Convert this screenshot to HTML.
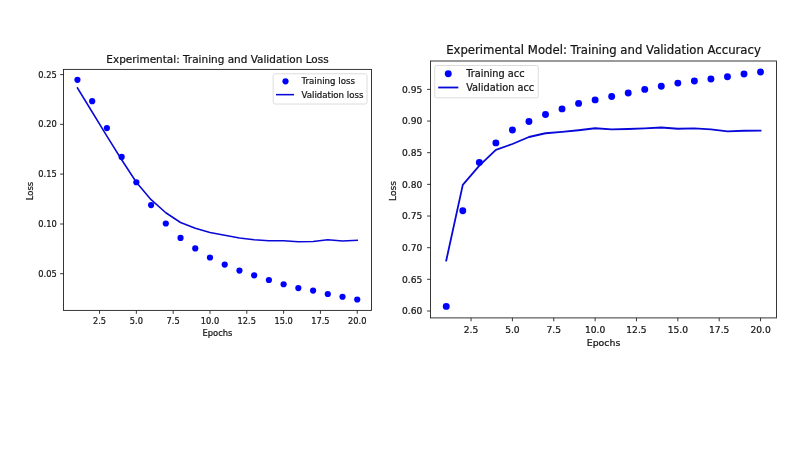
<!DOCTYPE html>
<html lang="en">
<head>
<meta charset="utf-8">
<title>Training and Validation curves</title>
<style>
html,body{margin:0;padding:0;background:#fff;}
body{width:800px;height:450px;overflow:hidden;}
svg{display:block;}
svg text{font-family:"DejaVu Sans","Liberation Sans",sans-serif;fill:#151515;stroke:#151515;stroke-width:0.22px;}
.tk{stroke:#222;stroke-width:0.9;}
</style>
</head>
<body>
<svg width="800" height="450" viewBox="0 0 800 450">
<rect x="0" y="0" width="800" height="450" fill="#ffffff"/>
<g class="ax">
<line x1="99.54" y1="310.4" x2="99.54" y2="313.80" class="tk"/>
<text x="99.54" y="323.75" text-anchor="middle" font-size="8.25">2.5</text>
<line x1="136.35" y1="310.4" x2="136.35" y2="313.80" class="tk"/>
<text x="136.35" y="323.75" text-anchor="middle" font-size="8.25">5.0</text>
<line x1="173.17" y1="310.4" x2="173.17" y2="313.80" class="tk"/>
<text x="173.17" y="323.75" text-anchor="middle" font-size="8.25">7.5</text>
<line x1="209.98" y1="310.4" x2="209.98" y2="313.80" class="tk"/>
<text x="209.98" y="323.75" text-anchor="middle" font-size="8.25">10.0</text>
<line x1="246.80" y1="310.4" x2="246.80" y2="313.80" class="tk"/>
<text x="246.80" y="323.75" text-anchor="middle" font-size="8.25">12.5</text>
<line x1="283.61" y1="310.4" x2="283.61" y2="313.80" class="tk"/>
<text x="283.61" y="323.75" text-anchor="middle" font-size="8.25">15.0</text>
<line x1="320.43" y1="310.4" x2="320.43" y2="313.80" class="tk"/>
<text x="320.43" y="323.75" text-anchor="middle" font-size="8.25">17.5</text>
<line x1="357.24" y1="310.4" x2="357.24" y2="313.80" class="tk"/>
<text x="357.24" y="323.75" text-anchor="middle" font-size="8.25">20.0</text>
<line x1="60.10" y1="74.6" x2="63.5" y2="74.6" class="tk"/>
<text x="56.70" y="77.61" text-anchor="end" font-size="8.25">0.25</text>
<line x1="60.10" y1="124.35" x2="63.5" y2="124.35" class="tk"/>
<text x="56.70" y="127.36" text-anchor="end" font-size="8.25">0.20</text>
<line x1="60.10" y1="174.1" x2="63.5" y2="174.1" class="tk"/>
<text x="56.70" y="177.11" text-anchor="end" font-size="8.25">0.15</text>
<line x1="60.10" y1="224.0" x2="63.5" y2="224.0" class="tk"/>
<text x="56.70" y="227.01" text-anchor="end" font-size="8.25">0.10</text>
<line x1="60.10" y1="273.7" x2="63.5" y2="273.7" class="tk"/>
<text x="56.70" y="276.71" text-anchor="end" font-size="8.25">0.05</text>
<polyline points="77.45,87.9 92.18,112 106.90,136.2 121.63,159.75 136.35,182.25 151.08,199.7 165.81,212.75 180.53,222.5 195.26,228.3 209.98,232.6 224.71,235.2 239.44,237.9 254.16,239.8 268.89,240.75 283.61,240.7 298.34,241.7 313.07,241.5 327.79,239.75 342.52,241 357.24,240.25" fill="none" stroke="#0808d8" stroke-width="1.55" stroke-linejoin="round" stroke-linecap="square"/>
<circle cx="77.45" cy="79.8" r="3.1" fill="#0000ff"/>
<circle cx="92.18" cy="101.2" r="3.1" fill="#0000ff"/>
<circle cx="106.90" cy="128.1" r="3.1" fill="#0000ff"/>
<circle cx="121.63" cy="156.9" r="3.1" fill="#0000ff"/>
<circle cx="136.35" cy="182.25" r="3.1" fill="#0000ff"/>
<circle cx="151.08" cy="205.1" r="3.1" fill="#0000ff"/>
<circle cx="165.81" cy="223.5" r="3.1" fill="#0000ff"/>
<circle cx="180.53" cy="237.9" r="3.1" fill="#0000ff"/>
<circle cx="195.26" cy="248.4" r="3.1" fill="#0000ff"/>
<circle cx="209.98" cy="257.5" r="3.1" fill="#0000ff"/>
<circle cx="224.71" cy="264.6" r="3.1" fill="#0000ff"/>
<circle cx="239.44" cy="270.6" r="3.1" fill="#0000ff"/>
<circle cx="254.16" cy="275.3" r="3.1" fill="#0000ff"/>
<circle cx="268.89" cy="280" r="3.1" fill="#0000ff"/>
<circle cx="283.61" cy="284.25" r="3.1" fill="#0000ff"/>
<circle cx="298.34" cy="288.1" r="3.1" fill="#0000ff"/>
<circle cx="313.07" cy="290.6" r="3.1" fill="#0000ff"/>
<circle cx="327.79" cy="294" r="3.1" fill="#0000ff"/>
<circle cx="342.52" cy="296.75" r="3.1" fill="#0000ff"/>
<circle cx="357.24" cy="299.5" r="3.1" fill="#0000ff"/>
<rect x="63.5" y="69.4" width="308.00" height="241.00" fill="none" stroke="#222" stroke-width="0.9"/>
<text x="217.50" y="62.7" text-anchor="middle" font-size="10.47">Experimental: Training and Validation Loss</text>
<text x="217.50" y="335.9" text-anchor="middle" font-size="8.35">Epochs</text>
<text transform="translate(32.9,191) rotate(-90)" text-anchor="middle" font-size="8.4">Loss</text>
<rect x="273.2" y="73.8" width="93.80" height="30.20" rx="1.8" fill="#fff" fill-opacity="0.8" stroke="#d8d8d8" stroke-width="0.9"/>
<circle cx="285.5" cy="81.3" r="3.1" fill="#0000ff"/>
<line x1="276" y1="94.65" x2="294" y2="94.65" stroke="#0808d8" stroke-width="1.55"/>
<text x="301.5" y="84" font-size="8.65">Training loss</text>
<text x="301.5" y="97.5" font-size="8.65">Validation loss</text>
</g>
<g class="ax">
<line x1="471.06" y1="317.9" x2="471.06" y2="321.30" class="tk"/>
<text x="471.06" y="332.5" text-anchor="middle" font-size="9.15">2.5</text>
<line x1="512.42" y1="317.9" x2="512.42" y2="321.30" class="tk"/>
<text x="512.42" y="332.5" text-anchor="middle" font-size="9.15">5.0</text>
<line x1="553.77" y1="317.9" x2="553.77" y2="321.30" class="tk"/>
<text x="553.77" y="332.5" text-anchor="middle" font-size="9.15">7.5</text>
<line x1="595.13" y1="317.9" x2="595.13" y2="321.30" class="tk"/>
<text x="595.13" y="332.5" text-anchor="middle" font-size="9.15">10.0</text>
<line x1="636.48" y1="317.9" x2="636.48" y2="321.30" class="tk"/>
<text x="636.48" y="332.5" text-anchor="middle" font-size="9.15">12.5</text>
<line x1="677.84" y1="317.9" x2="677.84" y2="321.30" class="tk"/>
<text x="677.84" y="332.5" text-anchor="middle" font-size="9.15">15.0</text>
<line x1="719.19" y1="317.9" x2="719.19" y2="321.30" class="tk"/>
<text x="719.19" y="332.5" text-anchor="middle" font-size="9.15">17.5</text>
<line x1="760.55" y1="317.9" x2="760.55" y2="321.30" class="tk"/>
<text x="760.55" y="332.5" text-anchor="middle" font-size="9.15">20.0</text>
<line x1="427.10" y1="89.4" x2="430.5" y2="89.4" class="tk"/>
<text x="422.40" y="92.74" text-anchor="end" font-size="9.15">0.95</text>
<line x1="427.10" y1="121.06" x2="430.5" y2="121.06" class="tk"/>
<text x="422.40" y="124.40" text-anchor="end" font-size="9.15">0.90</text>
<line x1="427.10" y1="152.7" x2="430.5" y2="152.7" class="tk"/>
<text x="422.40" y="156.04" text-anchor="end" font-size="9.15">0.85</text>
<line x1="427.10" y1="184.37" x2="430.5" y2="184.37" class="tk"/>
<text x="422.40" y="187.71" text-anchor="end" font-size="9.15">0.80</text>
<line x1="427.10" y1="216.03" x2="430.5" y2="216.03" class="tk"/>
<text x="422.40" y="219.37" text-anchor="end" font-size="9.15">0.75</text>
<line x1="427.10" y1="247.7" x2="430.5" y2="247.7" class="tk"/>
<text x="422.40" y="251.04" text-anchor="end" font-size="9.15">0.70</text>
<line x1="427.10" y1="279.3" x2="430.5" y2="279.3" class="tk"/>
<text x="422.40" y="282.64" text-anchor="end" font-size="9.15">0.65</text>
<line x1="427.10" y1="311.0" x2="430.5" y2="311.0" class="tk"/>
<text x="422.40" y="314.34" text-anchor="end" font-size="9.15">0.60</text>
<polyline points="446.25,260.5 462.79,184.9 479.33,165.6 495.88,149.8 512.42,144 528.96,137 545.50,133.25 562.04,131.9 578.59,130.25 595.13,128.25 611.67,129.4 628.21,129 644.75,128.3 661.30,127.5 677.84,128.75 694.38,128.45 710.92,129.4 727.46,131.45 744.01,130.75 760.55,130.6" fill="none" stroke="#0808d8" stroke-width="1.8" stroke-linejoin="round" stroke-linecap="square"/>
<circle cx="446.25" cy="306.4" r="3.45" fill="#0000ff"/>
<circle cx="462.79" cy="210.75" r="3.45" fill="#0000ff"/>
<circle cx="479.33" cy="162.5" r="3.45" fill="#0000ff"/>
<circle cx="495.88" cy="142.9" r="3.45" fill="#0000ff"/>
<circle cx="512.42" cy="130" r="3.45" fill="#0000ff"/>
<circle cx="528.96" cy="121.5" r="3.45" fill="#0000ff"/>
<circle cx="545.50" cy="114.5" r="3.45" fill="#0000ff"/>
<circle cx="562.04" cy="108.9" r="3.45" fill="#0000ff"/>
<circle cx="578.59" cy="103.4" r="3.45" fill="#0000ff"/>
<circle cx="595.13" cy="99.9" r="3.45" fill="#0000ff"/>
<circle cx="611.67" cy="96.5" r="3.45" fill="#0000ff"/>
<circle cx="628.21" cy="93" r="3.45" fill="#0000ff"/>
<circle cx="644.75" cy="89.4" r="3.45" fill="#0000ff"/>
<circle cx="661.30" cy="86.2" r="3.45" fill="#0000ff"/>
<circle cx="677.84" cy="83.1" r="3.45" fill="#0000ff"/>
<circle cx="694.38" cy="81" r="3.45" fill="#0000ff"/>
<circle cx="710.92" cy="79" r="3.45" fill="#0000ff"/>
<circle cx="727.46" cy="76.75" r="3.45" fill="#0000ff"/>
<circle cx="744.01" cy="74" r="3.45" fill="#0000ff"/>
<circle cx="760.55" cy="72" r="3.45" fill="#0000ff"/>
<rect x="430.5" y="61.0" width="346.00" height="256.90" fill="none" stroke="#222" stroke-width="0.9"/>
<text x="603.50" y="54.2" text-anchor="middle" font-size="11.69">Experimental Model: Training and Validation Accuracy</text>
<text x="603.50" y="345.6" text-anchor="middle" font-size="9.4">Epochs</text>
<text transform="translate(396,191) rotate(-90)" text-anchor="middle" font-size="9.1">Loss</text>
<rect x="434.75" y="65.5" width="103.50" height="32.25" rx="1.8" fill="#fff" fill-opacity="0.8" stroke="#d8d8d8" stroke-width="0.9"/>
<circle cx="448.25" cy="73.75" r="3.45" fill="#0000ff"/>
<line x1="438.2" y1="87.5" x2="458.3" y2="87.5" stroke="#0808d8" stroke-width="1.8"/>
<text x="466.2" y="76.75" font-size="9.78">Training acc</text>
<text x="466.2" y="91" font-size="9.78">Validation acc</text>
</g>
</svg>
</body>
</html>
